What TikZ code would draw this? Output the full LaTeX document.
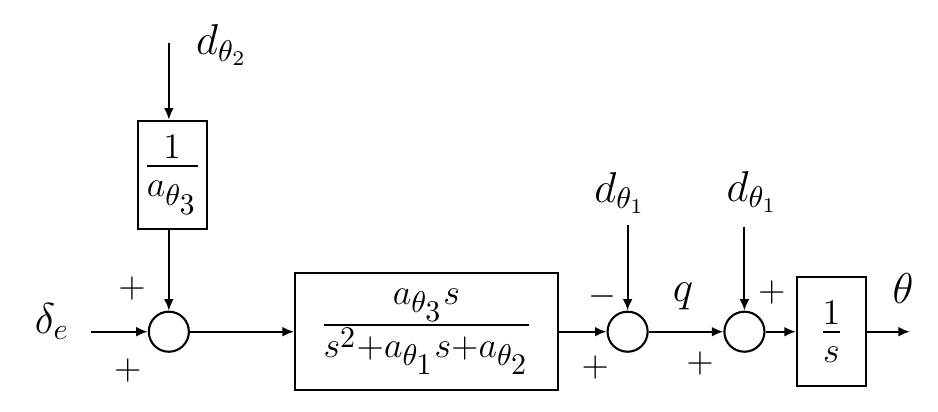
\documentclass[tikz,border=0pt]{standalone}
\usepackage{amsmath,amssymb}
\usetikzlibrary{positioning,calc,arrows.meta}

\begin{document}
\begin{tikzpicture}[>={Latex[length=1.35mm,width=1.15mm]},line width=0.7pt,every node/.style={font=\Large},
  sumnode/.style={draw,circle,inner sep=0pt,minimum size=0.47cm},
  blocknode/.style={draw,inner sep=0pt,font=\LARGE},
  signnode/.style={font=\large}]
\useasboundingbox (0,0) rectangle (11.0,4.83);
% summing junctions
\node[sumnode] (sumA) at (1.98,0.94) {};
\node[sumnode] (sumB) at (7.36,0.94) {};
\node[sumnode] (sumC) at (8.73,0.94) {};
% blocks
\node[blocknode,minimum width=0.81cm,minimum height=1.27cm] (gainBox) at (2.02,2.78) {$\frac{1}{a_{\theta_3}}$};
\node[blocknode,minimum width=3.08cm,minimum height=1.37cm] (plantBox) at (5.00,0.94) {$\frac{a_{\theta_3}s}{s^2+a_{\theta_1}s+a_{\theta_2}}$};
\node[blocknode,minimum width=0.81cm,minimum height=1.28cm] (intBox) at (9.75,0.94) {$\frac{1}{s}$};
% inputs and outputs
\coordinate (inDe) at (1.07,0.94);
\coordinate (inD2) at (1.98,4.33);
\coordinate (inD1a) at (7.36,2.19);
\coordinate (inD1b) at (8.73,2.17);
\coordinate (outTh) at (10.67,0.94);
\node (lblDe) at (0.61,1.06) {$\delta_e$};
\node (lblD2) at (2.60,4.30) {$d_{\theta_2}$};
\node (lblD1a) at (7.27,2.57) {$d_{\theta_1}$};
\node (lblD1b) at (8.82,2.58) {$d_{\theta_1}$};
\node (lblQ) at (8.01,1.35) {$q$};
\node (lblTh) at (10.59,1.45) {$\theta$};
% signs
\node[signnode] (sgA1) at (1.55,1.45) {$+$};
\node[signnode] (sgA2) at (1.50,0.49) {$+$};
\node[signnode] (sgB1) at (7.06,1.35) {$-$};
\node[signnode] (sgB2) at (6.98,0.52) {$+$};
\node[signnode] (sgC1) at (9.05,1.40) {$+$};
\node[signnode] (sgC2) at (8.21,0.57) {$+$};
% connectors
\draw[->] (inD2) -- (inD2 |- gainBox.north);
\draw[->] (gainBox.south -| sumA) -- (sumA);
\draw[->] (inDe) -- (sumA);
\draw[->] (sumA) -- (plantBox);
\draw[->] (plantBox) -- (sumB);
\draw[->] (inD1a) -- (sumB);
\draw[->] (sumB) -- (sumC);
\draw[->] (inD1b) -- (sumC);
\draw[->] (sumC) -- (intBox);
\draw[->] (intBox) -- (outTh);
\end{tikzpicture}
\end{document}
